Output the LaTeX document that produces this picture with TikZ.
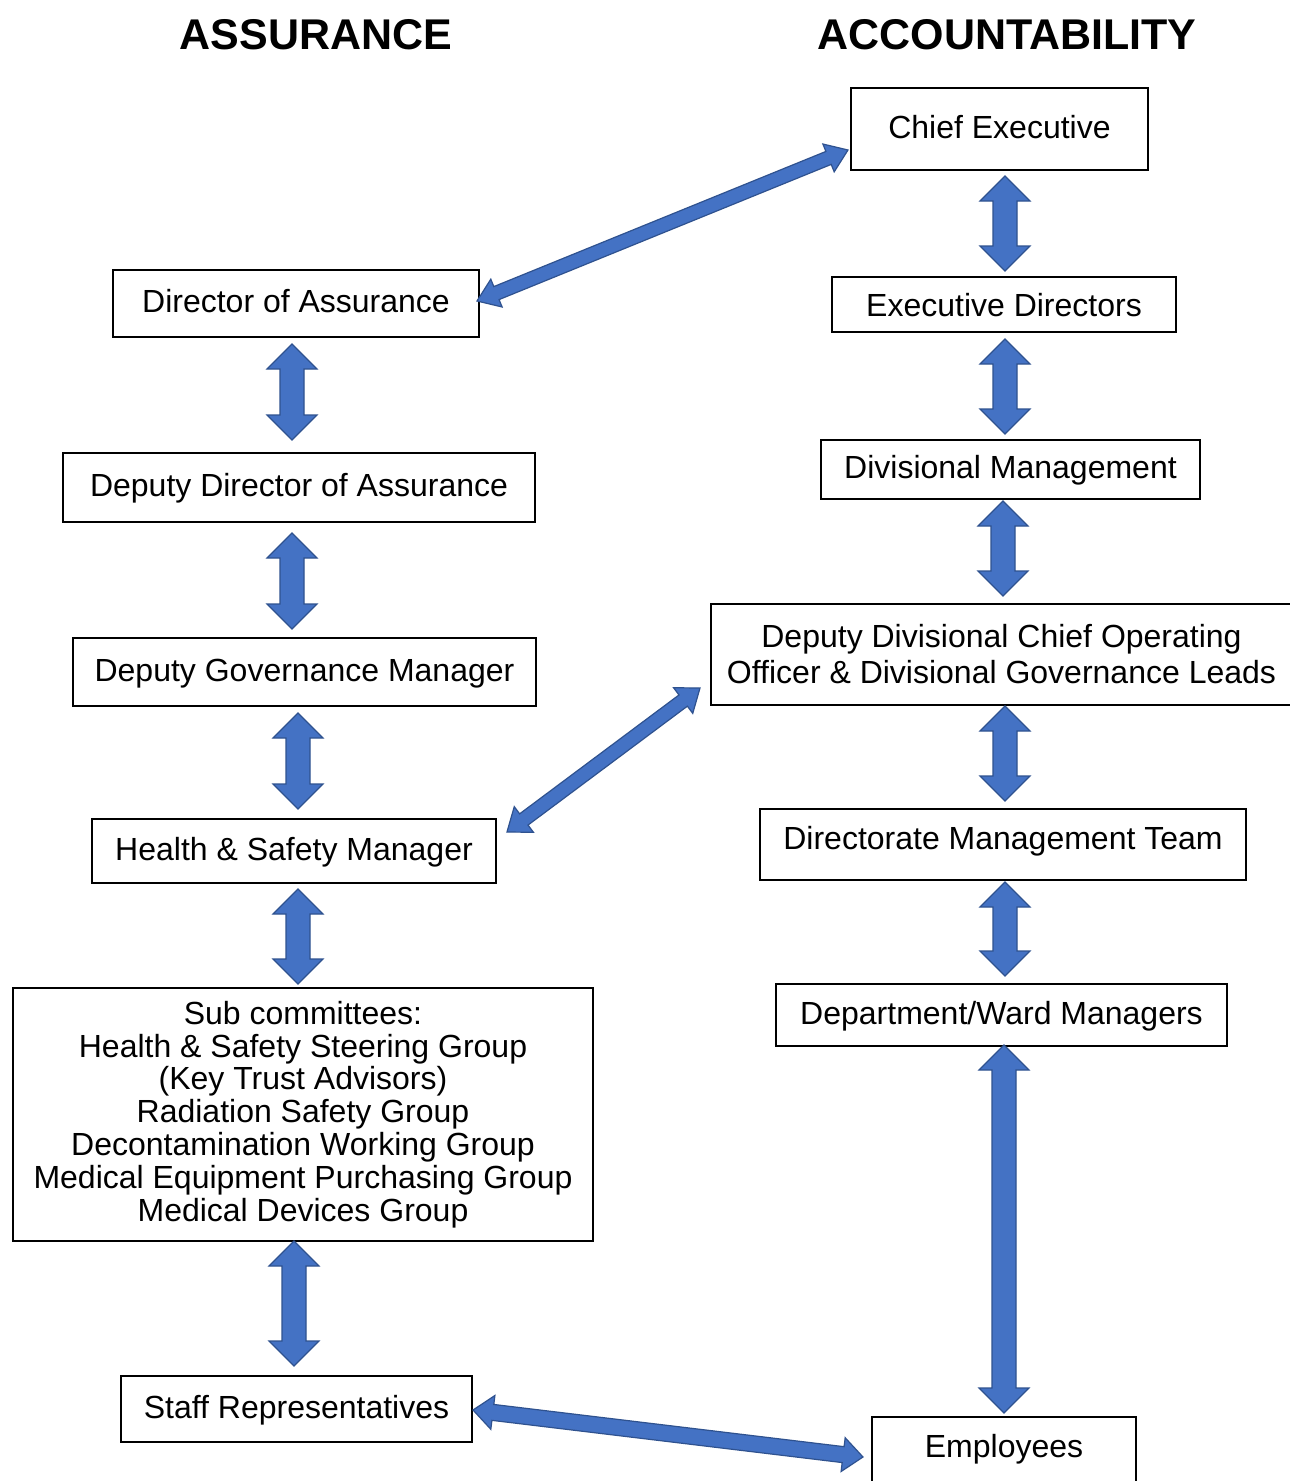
\documentclass[tikz,border=0pt]{standalone}
\usepackage{fontspec}
\setmainfont{Liberation Sans}
\usetikzlibrary{calc}
\definecolor{ablue}{HTML}{4472C4}
\definecolor{aedge}{HTML}{2F528F}
\newcommand\dblarr[5]{%
 \filldraw[arrowsty] (#1) -- ($(#1)!#3!(#2)!#4!90:(#2)$) -- ($(#1)!#3!(#2)!#5!90:(#2)$) -- ($(#2)!#3!(#1)!#5!-90:(#1)$) -- ($(#2)!#3!(#1)!#4!-90:(#1)$) -- (#2) -- ($(#2)!#3!(#1)!#4!90:(#1)$) -- ($(#2)!#3!(#1)!#5!90:(#1)$) -- ($(#1)!#3!(#2)!#5!-90:(#2)$) -- ($(#1)!#3!(#2)!#4!-90:(#2)$) -- cycle;}
\tikzset{
 box/.style={draw=black, line width=1.5pt, rectangle, inner sep=0pt, font=\fontsize{32}{32.8}\selectfont, text height=23pt, text depth=5pt, align=center},
 mbox/.style={draw=black, line width=1.5pt, rectangle, inner sep=0pt, font=\fontsize{32}{32.8}\selectfont, align=center},
 title/.style={font=\fontsize{43}{46}\selectfont\bfseries, inner sep=0pt},
 arrowsty/.style={fill=ablue, draw=aedge, line width=1.2pt, line join=miter}
}
\begin{document}
\begin{tikzpicture}[x=1pt,y=-1pt]
\useasboundingbox (0,0) rectangle (1290,1481);
\fill[white] (0,0) rectangle (1290,1481);
% titles
\node[title] (tA) at (316,35) {ASSURANCE};
\node[title] (tB) at (1007,35) {ACCOUNTABILITY};
% right column
\node[box, minimum width=297pt, minimum height=82pt] (ce) at (999.5,129) {Chief Executive};
\node[box, text height=29pt, minimum width=344pt, minimum height=55pt] (ed) at (1004,304.5) {Executive Directors};
\node[box, minimum width=379pt, minimum height=59pt] (dm) at (1010.5,469.5) {Divisional Management};
\node[mbox, font=\fontsize{32}{36}\selectfont, minimum width=581pt, minimum height=101pt] (dd) at (1001.5,654.5) {Deputy Divisional Chief Operating\\Officer \& Divisional Governance Leads};
\node[box, text depth=13pt, minimum width=486pt, minimum height=71pt] (dmt) at (1003,844.5) {Directorate Management Team};
\node[box, minimum width=451pt, minimum height=62pt] (dwm) at (1001.5,1015) {Department/Ward Managers};
\node[box, text depth=11pt, minimum width=264pt, minimum height=68pt] (emp) at (1004,1451) {Employees};
% left column
\node[box, minimum width=366pt, minimum height=67pt] (doa) at (296,303.5) {Director of Assurance};
\node[box, minimum width=472pt, minimum height=69pt] (ddoa) at (299,487.5) {Deputy Director of Assurance};
\node[box, minimum width=463pt, minimum height=68pt] (dgm) at (304.5,672) {Deputy Governance Manager};
\node[box, minimum width=404pt, minimum height=64pt] (hsm) at (294,851) {Health \& Safety Manager};
\node[mbox, minimum width=580pt, minimum height=253pt] (sub) at (303,1114.5) {Sub committees:\\Health \& Safety Steering Group\\(Key Trust Advisors)\\Radiation Safety Group\\Decontamination Working Group\\Medical Equipment Purchasing Group\\Medical Devices Group};
\node[box, minimum width=351pt, minimum height=66pt] (staff) at (296.5,1409) {Staff Representatives};
% arrow end coordinates
\coordinate (l1a) at (292,344); \coordinate (l1b) at (292,440);
\coordinate (l2a) at (292,533); \coordinate (l2b) at (292,629);
\coordinate (l3a) at (298,713); \coordinate (l3b) at (298,809);
\coordinate (l4a) at (298,889); \coordinate (l4b) at (298,984);
\coordinate (l5a) at (294,1241); \coordinate (l5b) at (294,1366);
\coordinate (r1a) at (1005,176); \coordinate (r1b) at (1005,271);
\coordinate (r2a) at (1005,339); \coordinate (r2b) at (1005,434);
\coordinate (r3a) at (1003,501); \coordinate (r3b) at (1003,596);
\coordinate (r4a) at (1005,706); \coordinate (r4b) at (1005,801);
\coordinate (r5a) at (1005,882); \coordinate (r5b) at (1005,976);
\coordinate (r6a) at (1004,1045); \coordinate (r6b) at (1004,1413);
\coordinate (d1a) at (477,301); \coordinate (d1b) at (848,150);
\coordinate (d2a) at (507,832); \coordinate (d2b) at (700,688);
\coordinate (d3a) at (473,1410); \coordinate (d3b) at (863,1457);
% vertical arrows
\foreach \p in {l1,l2,l3,l4,l5,r1,r2,r3,r4,r5,r6}{\dblarr{\p a}{\p b}{25pt}{25pt}{12pt}}
% diagonal arrows
\dblarr{d1a}{d1b}{21pt}{15pt}{7pt}
\dblarr{d2a}{d2b}{21pt}{16pt}{7pt}
\dblarr{d3a}{d3b}{20pt}{17pt}{8pt}
\end{tikzpicture}
\end{document}
